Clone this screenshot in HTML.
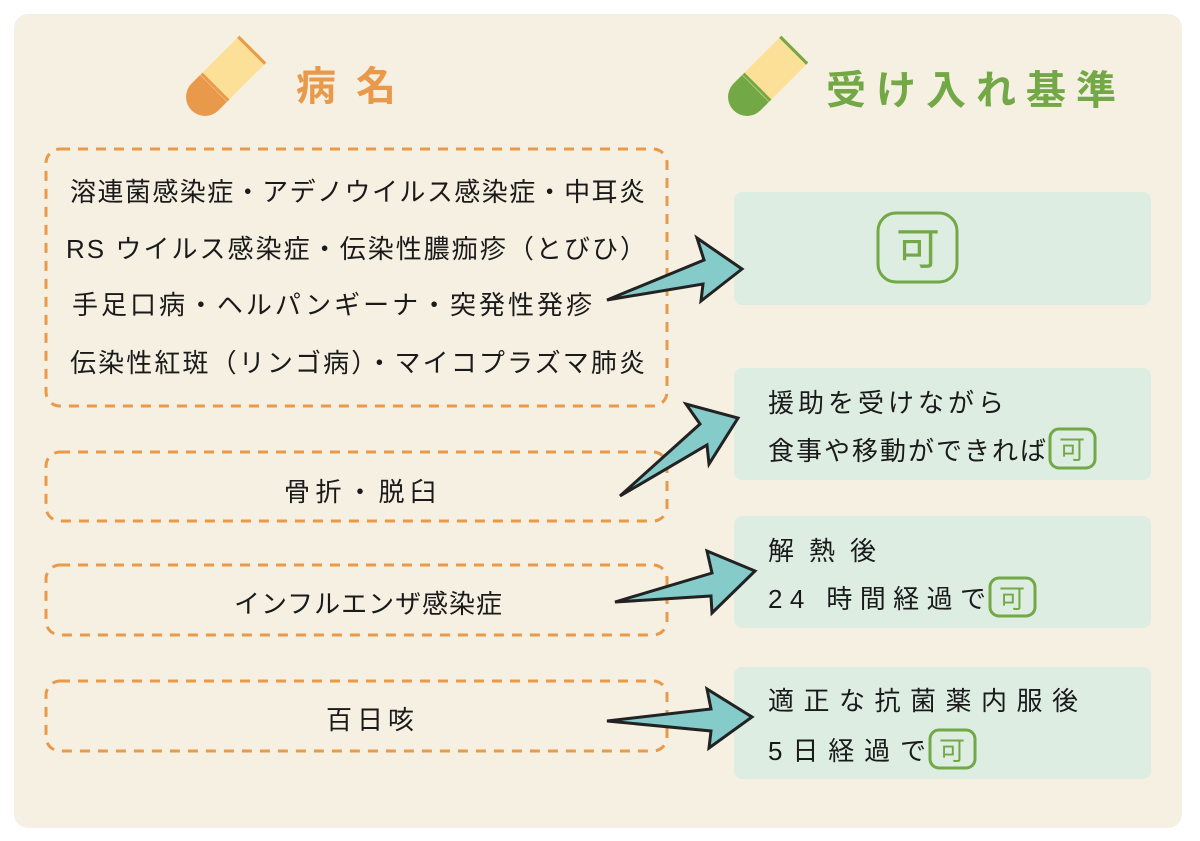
<!DOCTYPE html>
<html><head><meta charset="utf-8"><style>
html,body{margin:0;padding:0;background:#fff;}
svg{display:block;}
text{font-family:"Liberation Sans","Noto Sans CJK JP",sans-serif;fill:#1a1a1a;}
</style></head><body>
<svg width="1200" height="841" viewBox="0 0 1200 841" xmlns="http://www.w3.org/2000/svg">
<rect x="14" y="14" width="1168" height="814" rx="14" fill="#f6f0e3"/>
<g transform="translate(222,80) rotate(-45)">
<rect x="-12" y="-19" width="56" height="38" fill="#fde097"/>
<path d="M-12,-19 L-24,-19 A19,19 0 0 0 -24,19 L-12,19 Z" fill="#e8994a"/>
<line x1="-10" y1="-19" x2="-10" y2="19" stroke="#e8994a" stroke-width="3"/>
<line x1="42" y1="-19" x2="42" y2="19" stroke="#e8994a" stroke-width="3"/>
</g>
<text x="296" y="100" font-size="40" font-weight="bold" style="fill:#e8994a" textLength="100">病名</text>
<g transform="translate(764,80) rotate(-45)">
<rect x="-12" y="-19" width="56" height="38" fill="#fde097"/>
<path d="M-12,-19 L-24,-19 A19,19 0 0 0 -24,19 L-12,19 Z" fill="#72a845"/>
<line x1="-10" y1="-19" x2="-10" y2="19" stroke="#72a845" stroke-width="3"/>
<line x1="42" y1="-19" x2="42" y2="19" stroke="#72a845" stroke-width="3"/>
</g>
<text x="826" y="104" font-size="40" font-weight="bold" style="fill:#72a845" textLength="290">受け入れ基準</text>
<g fill="none" stroke="#e8994a" stroke-width="3" stroke-dasharray="10 8">
<rect x="46" y="149" width="621" height="257" rx="14"/>
<rect x="46" y="452" width="621" height="69" rx="14"/>
<rect x="46" y="565" width="621" height="70" rx="14"/>
<rect x="46" y="681" width="621" height="70" rx="14"/>
</g>
<g font-size="26">
<text x="70" y="201" textLength="575">溶連菌感染症・アデノウイルス感染症・中耳炎</text>
<text x="66" y="258" textLength="580">RS ウイルス感染症・伝染性膿痂疹（とびひ）</text>
<text x="72" y="314" textLength="520">手足口病・ヘルパンギーナ・突発性発疹</text>
<text x="70" y="372" textLength="575">伝染性紅斑（リンゴ病）・マイコプラズマ肺炎</text>
<text x="284" y="501" textLength="152">骨折・脱臼</text>
<text x="234" y="613" textLength="268">インフルエンザ感染症</text>
<text x="326" y="729" textLength="88">百日咳</text>
</g>
<g fill="#ddede2">
<rect x="734" y="192" width="417" height="113" rx="8"/>
<rect x="734" y="368" width="417" height="112" rx="8"/>
<rect x="734" y="516" width="417" height="112" rx="8"/>
<rect x="734" y="667" width="417" height="112" rx="8"/>
</g>
<g fill="none" stroke="#72a845" stroke-width="3">
<rect x="878" y="213" width="79" height="69" rx="18"/>
<rect x="1050" y="429" width="45" height="39" rx="9"/>
<rect x="990" y="578" width="45" height="38" rx="9"/>
<rect x="930" y="730" width="45" height="38" rx="9"/>
</g>
<text x="896" y="264" font-size="44" style="fill:#72a845">可</text>
<g font-size="26">
<text x="1059" y="459" style="fill:#72a845">可</text>
<text x="999" y="608" style="fill:#72a845">可</text>
<text x="939" y="760" style="fill:#72a845">可</text>
</g>
<g font-size="26">
<text x="768" y="412" textLength="236">援助を受けながら</text>
<text x="768" y="460" textLength="278">食事や移動ができれば</text>
<text x="768" y="560" textLength="108">解熱後</text>
<text x="768" y="608" textLength="218">24 時間経過で</text>
<text x="768" y="710" textLength="310">適正な抗菌薬内服後</text>
<text x="768" y="760" textLength="158">5日経過で</text>
</g>
<g fill="#84cbc9" stroke="#222" stroke-width="3" stroke-linejoin="miter">
<polygon points="607,300 704,260 697,238 742,269 701,301 703,284"/>
<polygon points="620,496 700,424 686,404 738,418 709,464 707,445"/>
<polygon points="615,602 712,573 707,551 755,571 712,613 711,596"/>
<polygon points="607,721 711,709 707,689 752,717 709,748 711,731"/>
</g>
</svg>
</body></html>
